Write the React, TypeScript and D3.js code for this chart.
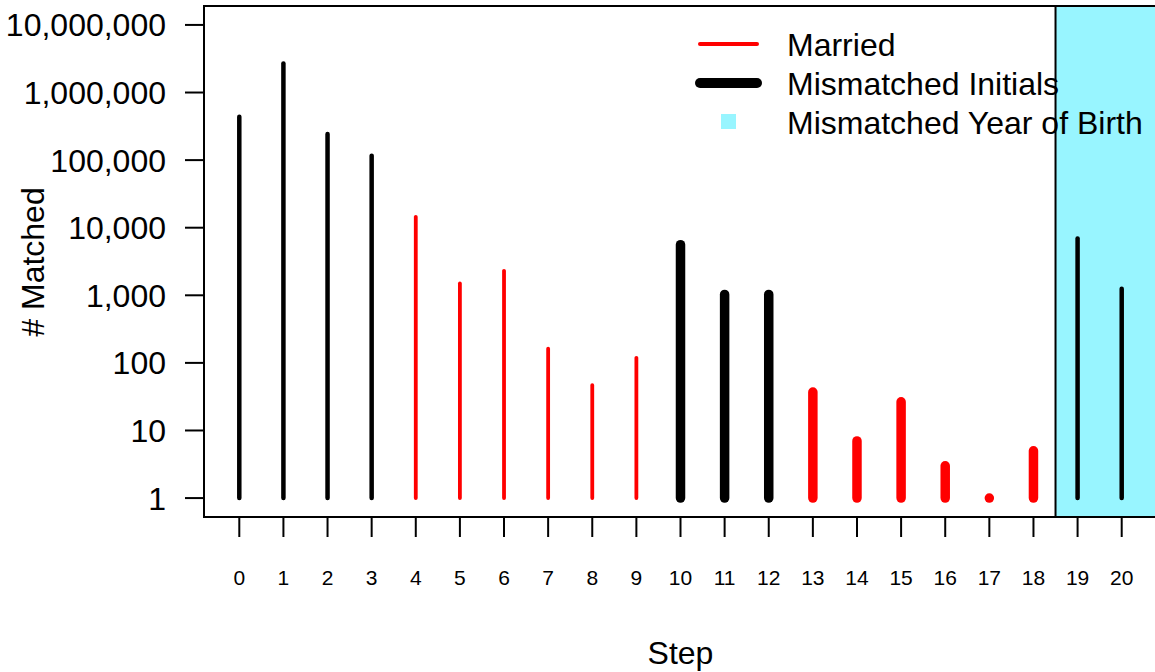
import { useMemo } from 'react';
import * as d3 from 'd3';

// step number, matched count, and which kind of mismatch each step allows
const steps = [0, 1, 2, 3, 4, 5, 6, 7, 8, 9, 10, 11, 12, 13, 14, 15, 16, 17, 18, 19, 20];
const matched = [437000, 2680000, 243000, 115700, 14500, 1500, 2300, 162, 47, 119, 5600, 1030, 1030, 37, 7, 26.5, 3, 1, 5, 6900, 1250];
const married = [false, false, false, false, true, true, true, true, true, true, false, false, false, true, true, true, true, true, true, false, false];
const initials = [false, false, false, false, false, false, false, false, false, false, true, true, true, true, true, true, true, true, true, false, false];
const yearOfBirthFrom = 18.5;

const yTicks = [1, 10, 100, 1000, 10000, 100000, 1000000, 10000000];
const legendItems = ['Married', 'Mismatched Initials', 'Mismatched Year of Birth'];

const W = 1155;
const H = 672;
const font = '"Liberation Sans", Arial, Helvetica, sans-serif';
const CYAN = '#98F5FF';

export default function App() {
  const plot = { left: 204, right: 1157, top: 6, bottom: 517 };

  const x = useMemo(() => d3.scaleLinear().domain([-0.8, 20.8]).range([plot.left, plot.right]), []);
  const y = useMemo(
    () => d3.scaleLog().domain([Math.pow(10, -0.28), Math.pow(10, 7.28)]).range([plot.bottom, plot.top]),
    []
  );
  const fmt = d3.format(',');

  const bar = (i: number) => {
    const thick = initials[i];
    const color = married[i] ? '#FF0000' : '#000000';
    const width = thick ? 9.5 : married[i] ? 3.8 : 4.5;
    const px = x(steps[i]);
    const path = d3.line()([[px, y(1)], [px, y(matched[i])]]) as string;
    return (
      <path key={i} d={path} stroke={color} strokeWidth={width} strokeLinecap="round" fill="none" />
    );
  };

  return (
    <svg
      width={W}
      height={H}
      style={{ position: 'fixed', left: 0, top: 0, background: '#fff' }}
      fontFamily={font}
    >
      <defs>
        <clipPath id="plot-clip">
          <rect x={plot.left} y={plot.top} width={plot.right - plot.left} height={plot.bottom - plot.top} />
        </clipPath>
      </defs>

      {/* year-of-birth region */}
      <rect
        x={x(yearOfBirthFrom)}
        y={plot.top}
        width={plot.right - x(yearOfBirthFrom) + 2}
        height={plot.bottom - plot.top}
        fill={CYAN}
        stroke="#000"
        strokeWidth={2}
      />

      <g clipPath="url(#plot-clip)">{steps.map((_, i) => bar(i))}</g>

      {/* box */}
      <rect
        x={plot.left}
        y={plot.top}
        width={plot.right - plot.left}
        height={plot.bottom - plot.top}
        fill="none"
        stroke="#000"
        strokeWidth={2}
      />

      {/* y axis */}
      {yTicks.map((t) => (
        <g key={t}>
          <line x1={plot.left - 19} x2={plot.left} y1={y(t)} y2={y(t)} stroke="#000" strokeWidth={2} />
          <text x={166} y={y(t)} dy="0.36em" textAnchor="end" fontSize={32}>
            {fmt(t)}
          </text>
        </g>
      ))}
      <text
        transform={`translate(44,262) rotate(-90)`}
        textAnchor="middle"
        fontSize={32}
      >
        # Matched
      </text>

      {/* x axis */}
      {steps.map((s) => (
        <g key={s}>
          <line x1={x(s)} x2={x(s)} y1={plot.bottom} y2={plot.bottom + 20} stroke="#000" strokeWidth={2} />
          <text x={x(s)} y={585} textAnchor="middle" fontSize={21}>
            {s}
          </text>
        </g>
      ))}
      <text x={(plot.left + plot.right) / 2} y={664} textAnchor="middle" fontSize={32}>
        Step
      </text>

      {/* legend */}
      <line x1={700} x2={757} y1={44} y2={44} stroke="#FF0000" strokeWidth={4} strokeLinecap="round" />
      <line x1={700} x2={757} y1={83} y2={83} stroke="#000" strokeWidth={10} strokeLinecap="round" />
      <rect x={721} y={114} width={15} height={15} fill={CYAN} />
      {legendItems.map((label, i) => (
        <text key={label} x={787} y={44 + i * 39} dy="0.36em" fontSize={32}>
          {label}
        </text>
      ))}
    </svg>
  );
}
